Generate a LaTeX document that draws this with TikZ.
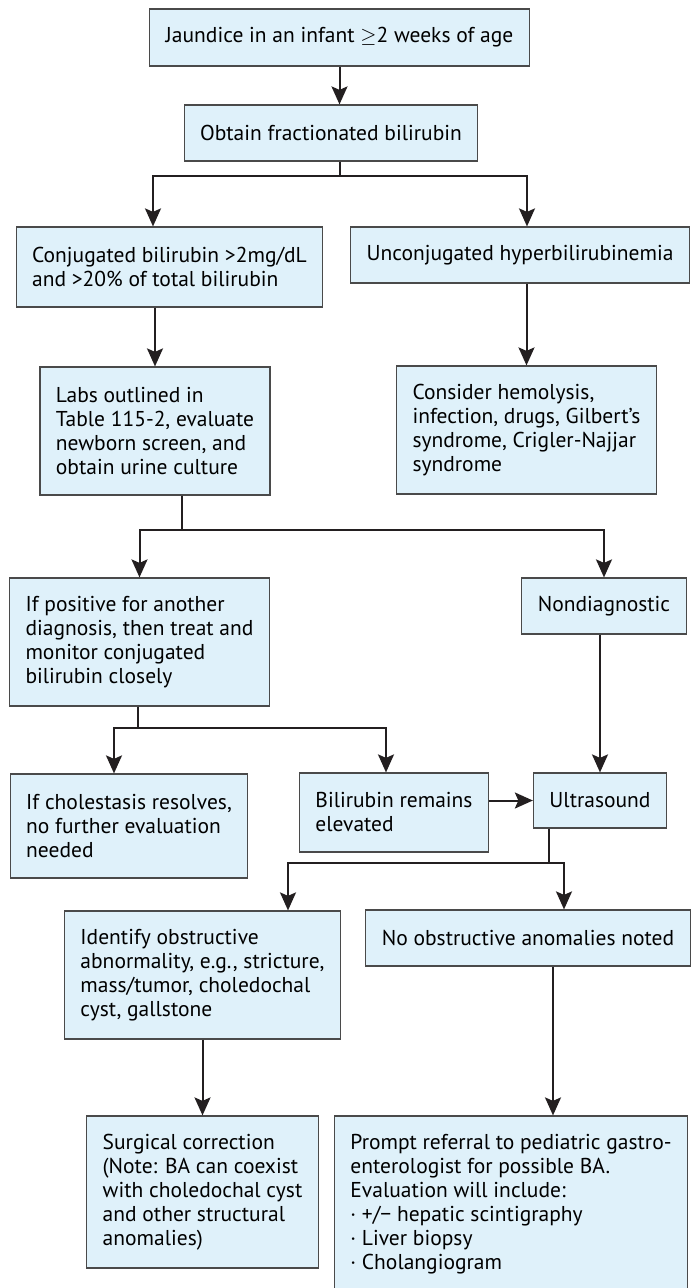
\documentclass[tikz,border=0pt]{standalone}
\usepackage{fontspec}
\setmainfont{PT Sans}
\usetikzlibrary{arrows.meta}
\definecolor{boxfill}{HTML}{DFF1FA}
\definecolor{boxline}{HTML}{4A4A4A}
\definecolor{arrowink}{HTML}{231F20}

\begin{document}
\begin{tikzpicture}[x=1pt, y=-1pt,
  box/.style={draw=boxline, fill=boxfill, line width=1.2pt, inner xsep=16pt, inner ysep=0pt, align=left, font=\fontsize{21.5}{24}\selectfont},
  arr/.style={draw=arrowink, line width=2pt, -{Stealth[length=18pt, width=16pt, inset=3.5pt]}}]
\useasboundingbox (0,0) rectangle (692,1288);
\clip (0,0) rectangle (692,1288);

\node [box, minimum height=57pt] (jaund) at (339.5,37.5) {Jaundice in an infant $\geq$2 weeks of age};
\node [box, minimum height=56pt] (obtain) at (331,133) {Obtain fractionated bilirubin};
\node [box, minimum height=80pt] (conj) at (169.5,267) {Conjugated bilirubin >2mg/dL\\and >20\% of total bilirubin};
\node [box, minimum height=56pt] (unconj) at (520,255) {Unconjugated hyperbilirubinemia};
\node [box, minimum height=128pt] (labs) at (155,431) {Labs outlined in\\Table 115-2, evaluate\\newborn screen, and\\obtain urine culture};
\node [box, minimum height=128pt] (consid) at (526.5,430) {Consider hemolysis,\\infection, drugs, Gilbert’s\\syndrome, Crigler-Najjar\\syndrome};
\node [box, minimum height=128pt] (ifpos) at (139.5,642) {If positive for another\\diagnosis, then treat and\\monitor conjugated\\bilirubin closely};
\node [box, minimum height=56pt] (nondiag) at (604,606) {Nondiagnostic};
\node [box, minimum height=104pt] (ifchol) at (129,826) {If cholestasis resolves,\\no further evaluation\\needed};
\node [box, minimum height=79pt] (remain) at (394,812.5) {Bilirubin remains\\elevated};
\node [box, minimum height=55pt] (ultra) at (600,800.5) {Ultrasound};
\node [box, minimum height=128pt] (ident) at (202.5,975) {Identify obstructive\\abnormality, e.g., stricture,\\mass/tumor, choledochal\\cyst, gallstone};
\node [box, minimum height=56pt] (noobs) at (528,938) {No obstructive anomalies noted};
\node [box, minimum height=152pt] (surg) at (202.5,1192) {Surgical correction\\(Note: BA can coexist\\with choledochal cyst\\and other structural\\anomalies)};
\node [box, minimum height=176pt] (prompt) at (511,1204) {Prompt referral to pediatric gastro-\\enterologist for possible BA.\\Evaluation will include:\\· +/− hepatic scintigraphy\\· Liver biopsy\\· Cholangiogram};

\draw [arr] (jaund.south) -- (jaund.south |- obtain.north);
\coordinate (fork1) at (jaund.south |- obtain.south);
\draw [arr] (fork1) -- ++(0,14) -| ([xshift=-16.5pt]conj.north);
\draw [arr] (fork1) -- ++(0,14) -| ([xshift=7pt]unconj.north);
\draw [arr] (conj.south -| labs.north) -- (labs.north);
\draw [arr] (unconj.south -| consid.north) -- (consid.north);
\coordinate (fork2) at ([xshift=27pt]labs.south);
\draw [arr] (fork2) -- ++(0,34) -| (ifpos.north);
\draw [arr] (fork2) -- ++(0,34) -| (nondiag.north);
\coordinate (fork3) at ([xshift=-1.5pt]ifpos.south);
\draw [arr] (fork3) -- ++(0,21) -| ([xshift=-15pt]ifchol.north);
\draw [arr] (fork3) -- ++(0,21) -| ([xshift=-8pt]remain.north);
\draw [arr] (nondiag.south -| ultra.north) -- (ultra.north);
\draw [arr] (remain.east |- ultra.west) -- (ultra.west);
\coordinate (fork4) at ([xshift=-51pt]ultra.south);
\draw [arr] (fork4) -- ++(0,34) -| ([xshift=85.5pt]ident.north);
\draw [arr] (fork4) -- ++(0,34) -| ([xshift=36pt]noobs.north);
\draw [arr] (ident.south) -- (surg.north);
\coordinate (stem5) at ([xshift=42pt]prompt.north);
\draw [arr] (stem5 |- noobs.south) -- (stem5);
\end{tikzpicture}
\end{document}
